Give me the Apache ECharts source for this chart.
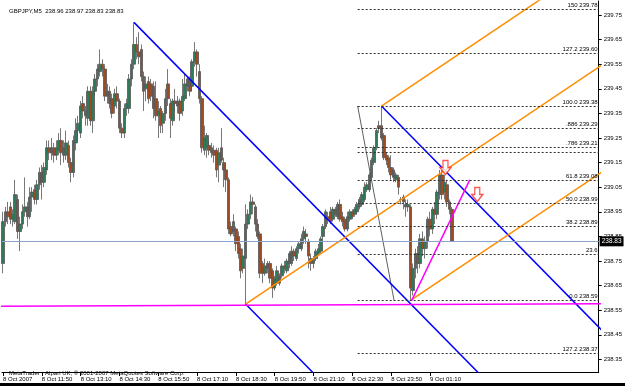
<!DOCTYPE html>
<html><head><meta charset="utf-8">
<script src="https://cdn.jsdelivr.net/npm/echarts@6/dist/echarts.min.js"></script>
<style>html,body{margin:0;padding:0;background:#fff;}#c{width:625px;height:386px;}</style>
</head><body><div id="c"></div>
<script>
// ---- data (GBPJPY M5, bar index 0 = 8 Oct 10:30) ----
const opens = [238.74,238.91,238.95,238.97,238.92,238.91,239.00,238.87,238.90,238.95,238.97,238.93,239.01,239.04,239.00,239.06,239.11,239.07,239.12,239.21,
239.19,239.21,239.18,239.20,239.24,239.21,239.18,239.22,239.15,239.11,239.23,239.28,239.27,239.39,239.36,239.33,239.44,239.32,239.44,239.49,
239.52,239.55,239.53,239.42,239.44,239.41,239.38,239.43,239.40,239.29,239.27,239.37,239.37,239.49,239.55,239.63,239.60,239.61,239.50,239.45,
239.48,239.47,239.46,239.41,239.34,239.37,239.31,239.35,239.47,239.39,239.32,239.40,239.40,239.40,239.36,239.41,239.46,239.49,239.46,239.56,
239.60,239.52,239.41,239.20,239.21,239.22,239.21,239.20,239.20,239.14,239.21,239.15,239.12,239.08,238.89,238.87,238.88,238.85,238.80,238.72,
238.76,238.90,238.94,238.99,238.97,238.90,238.86,238.74,238.70,238.74,238.74,238.71,238.64,238.66,238.69,238.69,238.73,238.71,238.74,238.74,
238.79,238.76,238.80,238.80,238.84,238.86,238.83,238.76,238.74,238.76,238.78,238.79,238.85,238.89,238.93,238.95,238.92,238.96,238.93,238.98,
238.93,238.92,238.88,238.92,238.95,238.94,238.95,238.97,238.98,239.00,239.04,239.04,239.09,239.15,239.21,239.30,239.30,239.26,239.18,239.17,
239.13,239.12,239.08,239.09,239.00,239.01,238.98,238.97,238.97,238.63,238.72,238.78,238.74,238.84,238.80,238.83,238.92,238.88,238.96,238.94,
239.02,239.10,239.03,239.06,238.99,238.96];
const closes = [238.91,238.95,238.93,238.92,238.94,239.02,238.87,238.90,238.95,238.97,238.93,239.01,239.03,239.00,239.06,239.11,239.07,239.13,239.21,239.19,
239.21,239.18,239.21,239.24,239.19,239.18,239.23,239.15,239.11,239.24,239.28,239.31,239.38,239.36,239.34,239.44,239.32,239.44,239.49,239.53,
239.55,239.53,239.42,239.44,239.39,239.35,239.43,239.40,239.29,239.27,239.37,239.39,239.49,239.55,239.63,239.60,239.58,239.50,239.44,239.47,
239.41,239.42,239.37,239.34,239.36,239.30,239.35,239.41,239.41,239.33,239.40,239.39,239.38,239.35,239.42,239.47,239.49,239.44,239.56,239.60,
239.55,239.41,239.21,239.25,239.26,239.20,239.19,239.18,239.12,239.19,239.16,239.12,239.08,238.88,238.86,238.91,238.82,238.78,238.71,238.77,
238.90,238.94,238.99,238.98,238.90,238.85,238.70,238.70,238.73,238.72,238.68,238.64,238.68,238.71,238.66,238.73,238.72,238.75,238.78,238.79,
238.77,238.80,238.82,238.84,238.87,238.85,238.77,238.74,238.76,238.79,238.80,238.84,238.89,238.95,238.92,238.91,238.96,238.94,238.98,238.92,
238.91,238.88,238.93,238.95,238.93,238.96,238.98,239.00,239.02,239.05,239.06,239.10,239.16,239.21,239.28,239.29,239.25,239.17,239.16,239.13,
239.10,239.09,239.10,239.05,239.00,238.99,238.97,238.98,238.64,238.72,238.78,238.74,238.84,238.80,238.83,238.92,238.88,238.96,238.94,239.03,
239.10,239.02,239.07,238.99,238.96,238.83];
const lows = [238.70,238.89,238.90,238.90,238.89,238.90,238.84,238.79,238.88,238.93,238.89,238.92,238.95,238.98,238.98,239.04,239.00,239.05,239.10,239.16,
239.16,239.15,239.16,239.18,239.14,239.15,239.16,239.13,239.07,239.09,239.20,239.24,239.25,239.33,239.30,239.30,239.30,239.27,239.42,239.46,
239.50,239.50,239.40,239.39,239.37,239.33,239.35,239.37,239.27,239.25,239.25,239.34,239.35,239.46,239.53,239.57,239.55,239.48,239.36,239.40,
239.39,239.40,239.33,239.32,239.25,239.27,239.27,239.32,239.38,239.25,239.30,239.36,239.35,239.32,239.34,239.40,239.44,239.42,239.44,239.54,
239.50,239.39,239.19,239.18,239.17,239.18,239.17,239.15,239.09,239.07,239.15,239.05,239.03,238.86,238.85,238.85,238.79,238.76,238.68,238.70,
238.57,238.88,238.92,238.94,238.87,238.84,238.68,238.66,238.69,238.70,238.66,238.60,238.63,238.65,238.65,238.68,238.70,238.70,238.72,238.73,
238.75,238.75,238.78,238.79,238.82,238.82,238.72,238.71,238.72,238.75,238.77,238.78,238.84,238.88,238.90,238.90,238.91,238.93,238.92,238.91,
238.89,238.87,238.87,238.91,238.92,238.93,238.94,238.96,238.97,238.99,239.03,239.03,239.08,239.14,239.20,239.27,239.24,239.16,239.14,239.11,
239.08,239.07,239.07,239.02,238.98,238.96,238.93,238.95,238.59,238.61,238.68,238.70,238.72,238.77,238.76,238.80,238.85,238.86,238.90,238.92,
239.00,239.00,239.00,238.97,238.94,238.83];
const highs = [238.95,238.97,238.99,238.99,238.96,239.08,239.02,238.93,238.98,239.09,238.99,239.05,239.05,239.06,239.08,239.13,239.14,239.15,239.24,239.24,
239.25,239.23,239.24,239.27,239.29,239.24,239.28,239.24,239.17,239.26,239.33,239.34,239.40,239.42,239.38,239.46,239.46,239.46,239.51,239.55,
239.61,239.57,239.55,239.47,239.46,239.43,239.45,239.46,239.41,239.31,239.39,239.41,239.51,239.57,239.72,239.66,239.68,239.63,239.52,239.50,
239.50,239.49,239.48,239.48,239.40,239.38,239.36,239.45,239.53,239.41,239.41,239.45,239.42,239.41,239.49,239.51,239.50,239.50,239.57,239.64,
239.61,239.55,239.42,239.30,239.27,239.24,239.23,239.22,239.21,239.21,239.29,239.17,239.14,239.09,238.91,238.94,238.89,238.87,238.82,238.80,
238.98,238.96,239.02,239.01,238.98,238.92,238.87,238.75,238.76,238.75,238.75,238.72,238.69,238.73,238.70,238.74,238.75,238.76,238.79,238.81,
238.80,238.81,238.83,238.86,238.89,238.88,238.84,238.78,238.77,238.80,238.82,238.85,238.90,238.96,238.95,238.97,238.97,238.97,238.99,239.00,
238.95,238.93,238.95,238.96,238.96,238.97,238.99,239.01,239.03,239.07,239.07,239.11,239.17,239.22,239.29,239.32,239.38,239.27,239.19,239.18,
239.18,239.13,239.11,239.10,239.01,239.02,239.00,239.00,238.98,238.74,238.80,238.81,238.86,238.87,238.85,238.93,238.95,238.97,238.99,239.04,
239.12,239.12,239.10,239.08,239.00,238.97];

const symbolName = 'GBPJPY,M5';
const lastOHLC = [238.96, 238.97, 238.83, 238.83];
const bidPrice = 238.83;

const timeTickIdx = [0,16,32,48,64,80,96,112,128,144,160,176];
const timeTickLabels = ['8 Oct 2007','8 Oct 11:50','8 Oct 13:10','8 Oct 14:30','8 Oct 15:50','8 Oct 17:10','8 Oct 18:30','8 Oct 19:50','8 Oct 21:10','8 Oct 22:30','8 Oct 23:50','9 Oct 01:10'];
const priceTicks = [238.35,238.45,238.55,238.65,238.75,238.85,238.95,239.05,239.15,239.25,239.35,239.45,239.55,239.65,239.75];

// drawing objects (anchors: [bar index, price])
const bluePitchfork = [[54,239.72],[100,238.575],[156,239.38]];
const orangePitchfork = [[100,238.575],[156,239.38],[168,238.59]];
const fibAnchors = [[146.2,239.38],[161.2,238.59]];
const fibLevels = [150,127.2,100,88.6,78.6,76.4,61.8,50,38.2,23.6,0,-27.2];
const fibLabels = ['150 239.78','127.2 239.60','100.0 239.38','.886 239.29','.786 239.21','','61.8 239.08','50.0 238.99','38.2 238.89','23.6','0.0 238.59','127.2 238.37'];
const magentaLevel = [[-1,238.566],[247,238.576]];
const magentaTrend = [[168.5,238.59],[192.4,239.08]];
const sellArrows = [[182.4,239.13],[195.5,239.02]];

// ---- chart ----
const FONT = 'Liberation Sans';
const XMIN = -0.41, XMAX = 245.54, YMIN = 238.2988, YMAX = 239.8069;

const candles = opens.map((o,i)=>[i,o,closes[i],lows[i],highs[i]]);

function pitchforkLines(pts){
  const [a,b,c] = pts;
  const m = [(b[0]+c[0])/2,(b[1]+c[1])/2];
  const d = [m[0]-a[0], m[1]-a[1]];
  const t = 6;
  return [a,b,c].map(p=>[[p[0],p[1]],[p[0]+d[0]*t,p[1]+d[1]*t]]);
}
function lineSeries(pts,color,w,z){
  return {type:'line',data:pts,showSymbol:false,symbol:'none',clip:true,silent:true,z:z||3,
    lineStyle:{color:color,width:w},animation:false};
}

const fibLow = fibAnchors[1][1], fibHigh = fibAnchors[0][1];
const fibData = fibLevels.map((lv,k)=>{
  const p = fibLow + lv/100*(fibHigh-fibLow);
  return [{name:fibLabels[k],coord:[fibAnchors[0][0],p]},{coord:[XMAX,p]}];
});

const series = [];
// bid line
series.push({type:'line',data:[],z:1,silent:true,
  markLine:{silent:true,symbol:['none','none'],animation:false,
    lineStyle:{color:'#8aa4cc',width:1,type:'solid'},
    label:{show:true,position:'end',formatter:bidPrice.toFixed(2),color:'#fff',backgroundColor:'#000',
      fontFamily:FONT,fontSize:6.5,padding:[2,2,1,2],distance:1},
    data:[{yAxis:bidPrice}]}});
// fibonacci
series.push({type:'line',data:fibAnchors,showSymbol:false,symbol:'none',z:1,silent:true,
  lineStyle:{color:'#606060',width:1},
  markLine:{silent:true,symbol:['none','none'],animation:false,
    lineStyle:{color:'#303030',width:1,type:[2,2]},
    label:{show:true,position:'insideEndTop',formatter:'{b}',color:'#000',fontFamily:FONT,fontSize:6,distance:[1,1]},
    data:fibData}});
// candles
series.push({type:'candlestick',data:candles,encode:{x:0,y:[1,2,3,4]},barWidth:3,z:2,silent:true,
  itemStyle:{color:'#2f7a58',color0:'#9c4b25',borderColor:'#555555',borderColor0:'#555555',borderWidth:0.8}});
// pitchforks
pitchforkLines(bluePitchfork).forEach(l=>series.push(lineSeries(l,'#0000ff',1.5,3)));
pitchforkLines(orangePitchfork).forEach(l=>series.push(lineSeries(l,'#ff8c00',1.5,3)));
// magenta lines
series.push(lineSeries(magentaLevel,'#ff00ff',1.5,3));
series.push(lineSeries(magentaTrend,'#ff00ff',1.5,3));
// sell arrows
series.push({type:'scatter',data:sellArrows,z:5,silent:true,
  symbol:'path://M3,0 H8 V7 H11 L5.5,14 L0,7 H3 Z',symbolSize:[11,14],
  itemStyle:{color:'#ffffff',borderColor:'#ff2a2a',borderWidth:1.4}});

const option = {
  animation:false,
  backgroundColor:'#ffffff',
  title:[
    {text:symbolName+'  '+lastOHLC.map(v=>v.toFixed(2)).join(' '),left:4,top:3,
      textStyle:{fontFamily:FONT,fontSize:6,fontWeight:'normal',color:'#000'}},
    {text:'MetaTrader - Alpari UK, © 2001-2007 MetaQuotes Software Corp.',left:4,top:365,
      textStyle:{fontFamily:FONT,fontSize:6,fontWeight:'normal',color:'#000'}}
  ],
  graphic:[{type:'rect',left:0,top:383,shape:{width:625,height:3},style:{fill:'#000'},silent:true}],
  grid:{left:0,right:25.5,top:1,bottom:14,containLabel:false},
  xAxis:{type:'value',min:XMIN,max:XMAX,
    axisLine:{show:true,onZero:false,lineStyle:{color:'#000',width:1}},
    axisTick:{show:true,customValues:timeTickIdx,length:4,lineStyle:{color:'#000'}},
    axisLabel:{show:true,customValues:timeTickIdx,align:'left',margin:4,fontFamily:FONT,fontSize:6,color:'#000',
      formatter:v=>{const k=timeTickIdx.indexOf(Math.round(v));return k>=0?timeTickLabels[k]:'';}},
    splitLine:{show:false}},
  yAxis:{type:'value',position:'right',min:YMIN,max:YMAX,scale:true,
    axisLine:{show:true,onZero:false,lineStyle:{color:'#000',width:1}},
    axisTick:{show:true,customValues:priceTicks,length:3,lineStyle:{color:'#000'}},
    axisLabel:{show:true,customValues:priceTicks,margin:5,fontFamily:FONT,fontSize:6,color:'#000',
      formatter:v=>v.toFixed(2)},
    splitLine:{show:false}},
  series:series
};
const chart = echarts.init(document.getElementById('c'),null,{renderer:'canvas'});
chart.setOption(option);
</script></body></html>
